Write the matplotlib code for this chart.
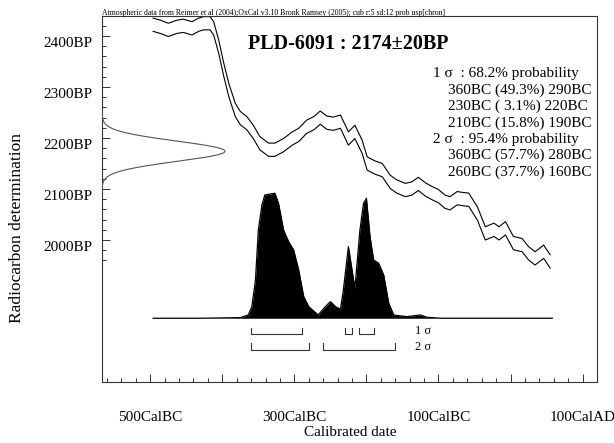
import numpy as np
import matplotlib.pyplot as plt
from matplotlib.ticker import FixedLocator
from matplotlib.transforms import ScaledTranslation, blended_transform_factory

plt.rcParams['font.family'] = ['Liberation Serif', 'DejaVu Serif']

# measurement
sample_name = "PLD-6091"
c14_age = 2174
c14_err = 20

# calibration curve (cal year, BP mean), band half-width
cal_years = [-496, -486, -475, -463, -454, -442, -433, -426, -417, -412,
             -405, -398, -391, -382, -375, -366, -357, -348, -336, -327,
             -315, -303, -294, -283, -273, -264, -255, -246, -236, -225,
             -216, -206, -199, -188, -178, -167, -158, -146, -137, -128,
             -118, -109, -100, -91, -84, -74, -65, -58, -46, -35,
             -23, -16, -7, 4, 16, 25, 34, 46, 55]
cal_bp = [2422, 2418, 2412, 2418, 2420, 2415, 2422, 2425, 2425, 2415,
          2379, 2334, 2294, 2255, 2239, 2229, 2212, 2190, 2177, 2177,
          2186, 2199, 2206, 2222, 2229, 2240, 2230, 2228, 2232, 2199,
          2212, 2183, 2150, 2142, 2137, 2114, 2105, 2098, 2101, 2110,
          2099, 2092, 2086, 2075, 2072, 2082, 2080, 2079, 2052, 2013,
          2020, 2013, 2023, 1994, 1990, 1974, 1964, 1977, 1958]
cal_sigma = 13

# calibrated probability distribution (relative)
dist_years = [-496, -431, -375, -364, -359, -354, -350, -345, -341, -327,
              -322, -315, -308, -301, -294, -287, -280, -267, -257, -250,
              -243, -236, -232, -225, -216, -209, -204, -200, -195, -190,
              -183, -176, -169, -162, -144, -125, -116, -97, 58]
dist_prob = [0, 0, 0.005, 0.026, 0.093, 0.306, 0.706, 0.906, 0.986, 1.0,
             0.92, 0.706, 0.613, 0.546, 0.386, 0.173, 0.093, 0.026, 0.093, 0.133,
             0.093, 0.072, 0.226, 0.573, 0.24, 0.706, 0.92, 0.96, 0.653, 0.466,
             0.44, 0.346, 0.12, 0.026, 0.013, 0.026, 0.008, 0, 0]

# ranges
sigma1_ranges = [(-360, -290), (-230, -220), (-210, -190)]
sigma2_ranges = [(-360, -280), (-260, -160)]
range_text = ["1 σ  : 68.2% probability",
              "360BC (49.3%) 290BC",
              "230BC ( 3.1%) 220BC",
              "210BC (15.8%) 190BC",
              "2 σ  : 95.4% probability",
              "360BC (57.7%) 280BC",
              "260BC (37.7%) 160BC"]

x_ticks = [-500, -400, -300, -200, -100, 0, 100]
x_labels = ["500CalBC", "", "300CalBC", "", "100CalBC", "", "100CalAD"]
y_ticks = [2000, 2100, 2200, 2300, 2400]
y_labels = ["2000BP", "2100BP", "2200BP", "2300BP", "2400BP"]

header = ("Atmospheric data from Reimer et al (2004);OxCal v3.10 Bronk Ramsey (2005); "
          "cub r:5 sd:12 prob usp[chron]")

fig = plt.figure(figsize=(6.14, 4.43), dpi=100)
ax = fig.add_axes([0.1661, 0.1377, 0.8062, 0.8262])
ax.set_xlim(-567, 120)
ax.set_ylim(1721.6, 2439.2)

cal_bp = np.array(cal_bp)
ax.plot(cal_years, cal_bp + cal_sigma, color='black', lw=0.8)
ax.plot(cal_years, cal_bp - cal_sigma, color='black', lw=0.8)

# ticks
ax.xaxis.set_major_locator(FixedLocator(x_ticks))
ax.xaxis.set_minor_locator(FixedLocator(np.arange(-560, 121, 20)))
ax.set_xticklabels(x_labels)
ax.yaxis.set_major_locator(FixedLocator(y_ticks))
ax.yaxis.set_minor_locator(FixedLocator(np.arange(1960, 2441, 20)))
ax.set_yticklabels(y_labels)
ax.tick_params(which='both', direction='in', top=False, right=False,
               labelsize=11, width=0.7, color='#333333')
ax.tick_params(which='major', length=5.5)
ax.tick_params(which='minor', length=3)
ax.tick_params(axis='x', pad=21)
ax.tick_params(axis='y', pad=7)
for lab in ax.get_yticklabels():
    lab.set_transform(lab.get_transform() + ScaledTranslation(0, -0.06, fig.dpi_scale_trans))
for sp in ax.spines.values():
    sp.set_linewidth(0.8)
    sp.set_color('#333333')

# distribution
ax2 = ax.twinx()
ax2.set_ylim(-0.510, 2.418)
ax2.fill_between(dist_years, 0, dist_prob, color='black', lw=0)
ax2.plot(dist_years, dist_prob, color='black', lw=0.9)
ax2.axis('off')

# measured radiocarbon age
ax3 = ax.twiny()
ax3.set_xlim(0, 4.024)
bp = np.linspace(c14_age - 4 * c14_err, c14_age + 4 * c14_err, 200)
ax3.plot(np.exp(-0.5 * ((bp - c14_age) / c14_err) ** 2), bp, color='#555555', lw=0.8)
ax3.axis('off')

# range brackets
bt = blended_transform_factory(ax.transData, ax.transAxes)
for rows, y0, y1 in [(sigma1_ranges, 0.1303, 0.1467), (sigma2_ranges, 0.0874, 0.1057)]:
    for a, b in rows:
        ax.plot([a, a, b, b], [y1, y0, y0, y1], color='#333333', lw=0.8, transform=bt)
ax.text(0.632, 0.138, "1 σ", transform=ax.transAxes, fontsize=9, va='center')
ax.text(0.632, 0.096, "2 σ", transform=ax.transAxes, fontsize=9, va='center')

# texts
ax.text(0.497, 0.9235, f"{sample_name} : {c14_age}±{c14_err}BP", transform=ax.transAxes,
        fontsize=14.5, fontweight='bold', ha='center', va='center')
for i, t in enumerate(range_text):
    x = 0.669 if 'σ' in t else 0.699
    y = (382 - (74 + 16.3 * i)) / 366
    ax.text(x, y, t, transform=ax.transAxes, fontsize=11, va='center')

fig.text(102 / 614, 1 - 17 / 443, header, fontsize=5.6, va='bottom', ha='left')
fig.text(17 / 614, 1 - 228 / 443, "Radiocarbon determination", rotation=90,
         fontsize=12.5, ha='center', va='center')
fig.text(350 / 614, 1 - 432 / 443, "Calibrated date", fontsize=11, ha='center', va='center')

fig.savefig("out.png", dpi=100)
